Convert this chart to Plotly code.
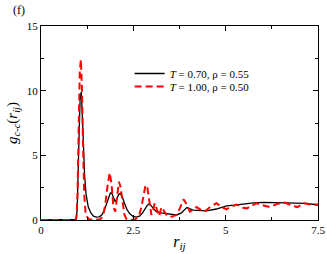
import plotly.graph_objects as go

# T = 0.70, rho = 0.55 (black solid)
r_a = [0, 0.9, 0.95, 0.98, 1.0, 1.03, 1.06, 1.09, 1.12, 1.15, 1.18, 1.22, 1.28, 1.35, 1.42, 1.5,
       1.58, 1.65, 1.72, 1.78, 1.84, 1.88, 1.92, 1.97, 2.01, 2.05, 2.1, 2.15, 2.2, 2.26, 2.33, 2.4,
       2.49, 2.58, 2.67, 2.75, 2.82, 2.88, 2.92, 2.97, 3.04, 3.12, 3.25, 3.39, 3.53, 3.67, 3.8,
       3.95, 4.12, 4.3, 4.48, 4.75, 5.02, 5.25, 5.47, 5.75, 6.02, 6.3, 6.65, 7.0, 7.2, 7.5]
g_a = [0, 0, 0.05, 0.8, 2.5, 6.5, 9.4, 9.9, 8.0, 5.5, 3.5, 2.0, 1.0, 0.55, 0.3, 0.22,
       0.25, 0.4, 0.8, 1.3, 1.9, 2.1, 2.05, 1.6, 1.42, 1.6, 1.95, 2.06, 1.8, 1.3, 0.8, 0.5,
       0.28, 0.22, 0.3, 0.55, 0.9, 1.15, 1.24, 1.15, 0.9, 0.65, 0.55, 0.5, 0.42, 0.39, 0.55,
       0.96, 0.77, 0.72, 0.7, 0.85, 1.1, 1.15, 1.24, 1.32, 1.37, 1.35, 1.29, 1.3, 1.29, 1.16]

# T = 1.00, rho = 0.50 (red dashed)
r_b = [0, 0.92, 0.96, 0.99, 1.02, 1.05, 1.08, 1.11, 1.14, 1.17, 1.21, 1.3, 1.45, 1.6, 1.68,
       1.74, 1.8, 1.86, 1.91, 1.96, 2.01, 2.06, 2.11, 2.15, 2.2, 2.26, 2.32, 2.42, 2.55, 2.65,
       2.72, 2.78, 2.83, 2.88, 2.93, 2.99, 3.04, 3.08, 3.14, 3.2, 3.26, 3.33, 3.42, 3.55, 3.67,
       3.76, 3.86, 3.95, 4.03, 4.12, 4.21, 4.32, 4.43, 4.58, 4.75, 4.9, 5.02, 5.15, 5.3, 5.45,
       5.58, 5.7, 5.84, 6.0, 6.2, 6.4, 6.6, 6.8, 6.95, 7.1, 7.3, 7.5]
g_b = [0, 0, 0.2, 2.0, 7.0, 11.5, 12.4, 10.0, 5.5, 2.0, 0.4, 0.05, 0.0, 0.05, 0.3,
       1.2, 2.6, 3.66, 2.8, 1.0, 0.64, 1.6, 2.96, 2.6, 1.4, 0.4, 0.05, 0.0, 0.05, 0.3,
       1.0, 2.0, 2.7, 2.5, 1.4, 0.39, 0.8, 1.3, 0.8, 0.3, 1.0, 0.7, 0.3, 0.26, 0.4,
       0.9, 1.6, 1.2, 0.65, 0.8, 1.0, 0.8, 0.65, 1.0, 1.3, 1.0, 0.83, 1.05, 1.2, 0.95,
       0.9, 1.1, 1.3, 1.15, 1.0, 1.25, 1.35, 1.1, 1.0, 1.3, 1.2, 1.2]

x_ticks = [0, 2.5, 5, 7.5]
x_tick_labels = ["0", "2.5", "5", "7.5"]
y_ticks = [0, 5, 10, 15]
y_tick_labels = ["0", "5", "10", "15"]

FONT = "Liberation Serif"

fig = go.Figure()
fig.add_trace(go.Scatter(x=r_a, y=g_a, mode="lines", name="<i>T</i> = 0.70, ρ = 0.55",
                         line=dict(color="black", width=1.3), legend="legend"))
fig.add_trace(go.Scatter(x=r_b, y=g_b, mode="lines", name="<i>T</i> = 1.00, ρ = 0.50",
                         line=dict(color="#ff0000", width=2, dash="7px,4px"), legend="legend2"))

axis_common = dict(showgrid=False, zeroline=False, showline=True, linecolor="black",
                   linewidth=1, mirror="ticks", ticks="inside", ticklen=5, tickcolor="black",
                   automargin=False,
                   tickfont=dict(family=FONT, size=11, color="black"))

fig.update_xaxes(range=[0, 7.5], tickvals=x_ticks, ticktext=x_tick_labels,
                 minor=dict(tickvals=[1.25, 3.75, 6.25], ticks="inside", ticklen=3, tickcolor="black"),
                 title=dict(text="<i>r</i><sub><i>ij</i></sub>", font=dict(family=FONT, size=16, color="black"),
                            standoff=0),
                 **axis_common)
fig.update_yaxes(range=[0, 15], tickvals=y_ticks, ticktext=y_tick_labels,
                 minor=dict(tickvals=[2.5, 7.5, 12.5], ticks="inside", ticklen=3, tickcolor="black"),
                 title=dict(text="<i>g</i><sub><i>c-c</i></sub>(<i>r</i><sub><i>ij</i></sub>)",
                            font=dict(family=FONT, size=15, color="black"), standoff=5),
                 **axis_common)

fig.add_annotation(text="(f)", xref="paper", yref="paper", x=-0.08, y=1.08,
                   xanchor="center", yanchor="middle", showarrow=False,
                   font=dict(family=FONT, size=12, color="black"))

leg_common = dict(xanchor="left", yanchor="top", bgcolor="rgba(0,0,0,0)",
                  font=dict(family=FONT, size=11, color="black"), itemwidth=30)

fig.update_layout(
    width=327, height=254,
    margin=dict(l=41, r=9, t=26, b=34),
    paper_bgcolor="white", plot_bgcolor="white",
    font=dict(family=FONT, color="black"),
    showlegend=True,
    legend=dict(x=0.32, y=0.83, visible=True, **leg_common),
    legend2=dict(x=0.32, y=0.763, visible=True, **leg_common),
)

fig.write_html("out.html", config={"displayModeBar": False},
               post_script="document.body.style.margin='0';")
